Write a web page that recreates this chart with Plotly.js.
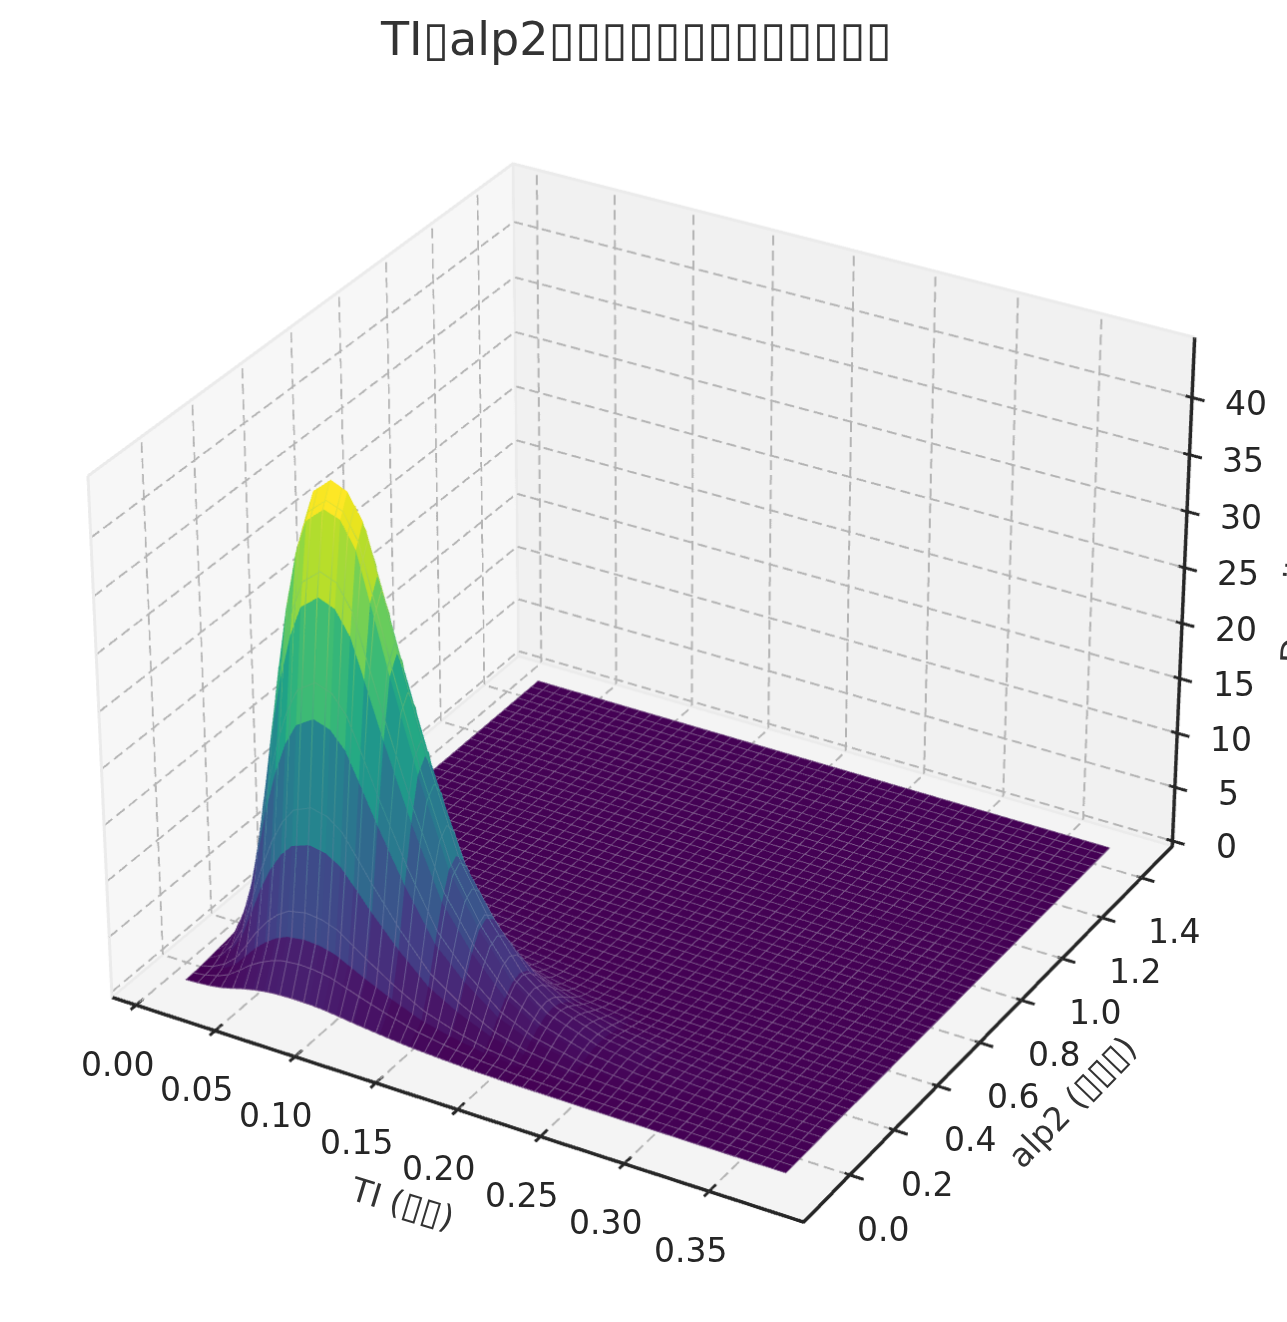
<!DOCTYPE html>
<html><head><meta charset="utf-8">
<script src="https://cdn.plot.ly/plotly-3.0.1.min.js"></script>
<style>html,body{margin:0;padding:0;background:#fff}#page{position:relative;width:1287px;height:1322px;overflow:hidden;background:#fff}#chart{position:absolute}</style>
</head><body><div id="page"><div id="chart"></div></div>
<script>
const tiValues=[.012,.02,.028,.035,.042,.048,.055,.062,.069,.08,.09,.099,.107,.118,.134,.152,.17,.19,.21,.24,.27,.3,.34,.378];
const alp2Values=[-.08,-.026,.005,.036,.068,.099,.13,.16,.19,.22,.25,.28,.31,.35,.4,.5,.6,.7,.85,1.0,1.2,1.46];
const densityRows=[
[.01,.07,.18,.34,.6,.85,1.07,1.24,1.35,1.41,1.38,1.3,1.16,.96,.69,.44,.28,.15,.08,.04,.02,.01,0,0],
[.06,.29,.74,1.38,2.46,3.43,4.34,5.03,5.49,5.72,5.6,5.27,4.69,3.89,2.81,1.77,1.14,.62,.34,.14,.07,.03,.01,.01],
[.14,.68,1.77,3.29,5.86,8.18,10.35,12.0,13.08,13.64,13.36,12.56,11.19,9.27,6.7,4.22,2.73,1.49,.81,.34,.16,.08,.03,.01],
[.24,1.21,3.14,5.83,10.4,14.52,18.37,21.29,23.21,24.2,23.71,22.28,19.86,16.45,11.88,7.48,4.84,2.64,1.43,.61,.28,.14,.05,.02],
[.34,1.72,4.45,8.27,14.74,20.59,26.05,30.19,32.92,34.2,33.62,31.59,28.16,23.32,16.85,10.61,6.86,3.74,2.03,.86,.39,.2,.07,.03],
[.42,2.09,5.42,10.07,17.96,25.08,31.73,36.77,39.8,41.2,40.7,38.48,34.3,28.41,20.52,12.92,8.36,4.56,2.47,1.05,.48,.25,.09,.04],
[.44,2.2,5.7,10.6,18.9,26.4,33.4,38.5,41.8,43.2,42.6,40.4,36.1,29.9,21.6,13.6,8.8,4.8,2.6,1.1,.5,.26,.09,.04],
[.41,2.05,5.3,9.86,17.58,24.55,31.06,35.8,39,40.4,39.8,37.6,33.57,27.81,20.09,12.65,8.18,4.46,2.42,1.02,.47,.24,.08,.04],
[.33,1.67,4.33,8.06,14.36,20.06,25.38,29.41,32.07,33.3,32.76,30.78,27.44,22.72,16.42,10.34,6.69,3.65,1.98,.84,.38,.2,.07,.03],
[.24,1.2,3.1,5.8,10.35,14.5,18.3,21.2,23.1,24.1,23.6,22.2,19.8,16.4,11.8,7.45,4.8,2.63,1.42,.6,.28,.14,.05,.02],
[.16,.79,2.05,3.82,6.8,9.5,12.02,13.93,15.19,15.84,15.52,14.58,13,10.76,7.78,4.9,3.17,1.73,.94,.4,.18,.09,.03,.01],
[.09,.46,1.2,2.23,3.97,5.54,7.01,8.13,8.86,9.24,9.05,8.5,7.58,6.28,4.54,2.86,1.85,1.01,.55,.23,.11,.05,.02,.01],
[.05,.26,.68,1.27,2.27,3.17,4.01,4.64,5.06,5.28,5.17,4.86,4.33,3.59,2.59,1.63,1.06,.58,.31,.13,.06,.03,.01,0],
[.03,.13,.34,.64,1.13,1.58,2,2.32,2.53,2.64,2.59,2.43,2.17,1.79,1.3,.82,.53,.29,.16,.07,.03,.02,.01,0],
[.01,.07,.17,.32,.57,.79,1,1.16,1.27,1.32,1.29,1.22,1.08,.9,.65,.41,.26,.14,.08,.03,.02,.01,0,0],
[0,.03,.07,.13,.23,.32,.4,.46,.51,.53,.52,.49,.43,.36,.26,.16,.11,.06,.03,.01,.01,0,0,0],
[0,.01,.03,.06,.11,.16,.2,.23,.25,.26,.26,.24,.22,.18,.13,.08,.05,.03,.02,.01,0,0,0,0],
[0,.01,.02,.03,.06,.08,.1,.12,.13,.13,.13,.12,.11,.09,.06,.04,.03,.01,.01,0,0,0,0,0],
[0,0,.01,.01,.02,.03,.03,.04,.04,.04,.04,.04,.04,.03,.02,.01,.01,0,0,0,0,0,0,0],
[0,0,0,0,.01,.01,.01,.01,.01,.01,.01,.01,.01,.01,.01,0,0,0,0,0,0,0,0,0],
[0,0,0,0,0,0,0,0,0,0,0,0,0,0,0,0,0,0,0,0,0,0,0,0],
[0,0,0,0,0,0,0,0,0,0,0,0,0,0,0,0,0,0,0,0,0,0,0,0]];
const xTicks=[0,.05,.1,.15,.2,.25,.3,.35];
const xTickText=['0.00','0.05','0.10','0.15','0.20','0.25','0.30','0.35'];
const yTicks=[0,.2,.4,.6,.8,1,1.2,1.4];
const yTickText=['0.0','0.2','0.4','0.6','0.8','1.0','1.2','1.4'];
const zTicks=[0,5,10,15,20,25,30,35,40];
const box='<span style="font-size:48px">▯</span>';
const smallBox='<span style="font-size:36px">▯</span>';
const titleText='TI'+box+'alp2'+box.repeat(13);
const xLabel='TI ('+smallBox.repeat(2)+')', yLabel='alp2 ('+smallBox.repeat(3)+')', zLabel='Density';

const W=5745,H=5745,PX=651,PY=668,LEFT=PX-W/2,TOP=PY-H/2;
document.getElementById('chart').style.left=LEFT+'px';
document.getElementById('chart').style.top=TOP+'px';
const xlo=-.0154,xhi=.405,ylo=-.205,yhi=1.56,zlo=-.5,zhi=45.2;
const xe=.012,ye=.03;
const xR=[xlo-xe,xhi+xe],yR=[ylo-ye,yhi+ye],zR=[zlo-.2,zhi+.2];
const dark='#262626',gridC='#b4b4b4',edgeC='#ebebeb',dk=.0004,dy=.002,dz=.06;

function lines(segs,color,width){
  const x=[],y=[],z=[];
  segs.forEach(s=>{s.forEach(p=>{x.push(p[0]);y.push(p[1]);z.push(p[2]);});x.push(null);y.push(null);z.push(null);});
  return {type:'scatter3d',mode:'lines',x,y,z,line:{color,width},hoverinfo:'skip',showlegend:false};
}
function dashes(a,b,n){
  const out=[];
  for(let i=0;i<n;i++){
    const s=i/n,e=(i+.66)/n;
    out.push([[a[0]+(b[0]-a[0])*s,a[1]+(b[1]-a[1])*s,a[2]+(b[2]-a[2])*s],[a[0]+(b[0]-a[0])*e,a[1]+(b[1]-a[1])*e,a[2]+(b[2]-a[2])*e]]);
  }
  return out;
}
function pane(xs,ys,zs,color){
  return {type:'mesh3d',x:xs,y:ys,z:zs,i:[0,0],j:[1,2],k:[2,3],color,flatshading:true,hoverinfo:'skip',showscale:false,
    lighting:{ambient:1,diffuse:0,specular:0,roughness:1,fresnel:0}};
}
const px=xlo-dk,py=yhi+dy,pz=zlo-dz;
const traces=[
 pane([px,px,px,px],[ylo,yhi,yhi,ylo],[zlo,zlo,zhi,zhi],'#f7f7f7'),
 pane([xlo,xhi,xhi,xlo],[py,py,py,py],[zlo,zlo,zhi,zhi],'#f1f1f1'),
 pane([xlo,xhi,xhi,xlo],[ylo,ylo,yhi,yhi],[pz,pz,pz,pz],'#f4f4f4')
];
let gridSegs=[];
xTicks.forEach(t=>{gridSegs=gridSegs.concat(dashes([t,ylo,zlo],[t,yhi,zlo],36),dashes([t,yhi,zlo],[t,yhi,zhi],34));});
yTicks.forEach(t=>{gridSegs=gridSegs.concat(dashes([xhi,t,zlo],[xlo,t,zlo],46),dashes([xlo,t,zlo],[xlo,t,zhi],34));});
zTicks.forEach(t=>{gridSegs=gridSegs.concat(dashes([xlo,ylo,t],[xlo,yhi,t],36),dashes([xlo,yhi,t],[xhi,yhi,t],46));});
traces.push(lines(gridSegs,gridC,2));
traces.push(lines([[[xlo,ylo,zhi],[xlo,yhi,zhi],[xhi,yhi,zhi]],[[xlo,yhi,zlo],[xlo,yhi,zhi]],[[xlo,ylo,zlo],[xlo,yhi,zlo],[xhi,yhi,zlo]],[[xlo,ylo,zlo],[xlo,ylo,zhi]]],edgeC,3));

// flat-coloured faces, each face takes the mean of its four corners
const nx=tiValues.length,ny=alp2Values.length,eps=1e-6;
const ex=[],ey=[],ez=[],ec=[];
for(let k=0;k<2*(nx-1);k++){const f=k>>1,s=k&1;ex.push(tiValues[f+s]+(s?-eps:eps));}
for(let k=0;k<2*(ny-1);k++){const f=k>>1,s=k&1;ey.push(alp2Values[f+s]+(s?-eps:eps));}
let maxFace=0;
for(let r=0;r<2*(ny-1);r++){
  const fr=r>>1,sr=r&1,zr=[],cr=[];
  for(let c=0;c<2*(nx-1);c++){
    const fc=c>>1,sc=c&1;
    zr.push(densityRows[fr+sr][fc+sc]);
    const m=(densityRows[fr][fc]+densityRows[fr+1][fc]+densityRows[fr][fc+1]+densityRows[fr+1][fc+1])/4;
    cr.push(m); if(m>maxFace)maxFace=m;
  }
  ez.push(zr);ec.push(cr);
}
traces.push({type:'surface',x:ex,y:ey,z:ez,surfacecolor:ec,colorscale:'Viridis',cmin:0,cmax:maxFace,showscale:false,hoverinfo:'skip',
  lighting:{ambient:1,diffuse:0,specular:0,roughness:1,fresnel:0},contours:{x:{show:false},y:{show:false},z:{show:false}}});

// faint seams between the faces
function heightAt(x,y){
  let i=0,j=0;
  while(i<nx-2&&tiValues[i+1]<x)i++;
  while(j<ny-2&&alp2Values[j+1]<y)j++;
  const u=(x-tiValues[i])/(tiValues[i+1]-tiValues[i]),v=(y-alp2Values[j])/(alp2Values[j+1]-alp2Values[j]);
  return (1-v)*((1-u)*densityRows[j][i]+u*densityRows[j][i+1])+v*((1-u)*densityRows[j+1][i]+u*densityRows[j+1][i+1]);
}
const seamN=50,sx=[],sy=[],sz=[],sc=[];
function seamPt(x,y){const h=heightAt(x,y);sx.push(x+.0004);sy.push(y-.0015);sz.push(h+.03);sc.push(h);}
function seamGap(){sx.push(null);sy.push(null);sz.push(null);sc.push(0);}
const xa=tiValues[0],xb=tiValues[nx-1],ya=alp2Values[0],yb=alp2Values[ny-1];
for(let i=0;i<seamN;i++){
  const x=xa+(xb-xa)*i/(seamN-1);
  alp2Values.forEach(y=>seamPt(x,y));seamGap();
  const y0=ya+(yb-ya)*i/(seamN-1);
  tiValues.forEach(v=>seamPt(v,y0));seamGap();
}
traces.push({type:'scatter3d',mode:'lines',x:sx,y:sy,z:sz,hoverinfo:'skip',showlegend:false,
 line:{width:1,color:sc,cmin:0,cmax:44,showscale:false,colorscale:[[0,'#7a5688'],[.08,'#775590'],[.2,'#586b9c'],[.45,'#2f9590'],[.7,'#62c46a'],[1,'#fde725']]}});

traces.push(lines([[[xlo,ylo,zlo],[xhi,ylo,zlo],[xhi,yhi,zlo],[xhi,yhi,zhi]]],dark,3.5));
const tickSegs=[];
xTicks.forEach(t=>tickSegs.push([[t,ylo-.022,zlo],[t,ylo+.03,zlo]]));
yTicks.forEach(t=>tickSegs.push([[xhi-.003,t,zlo],[xhi+.008,t,zlo]]));
zTicks.forEach(t=>tickSegs.push([[xhi-.0037,yhi,t],[xhi+.0074,yhi,t]]));
traces.push(lines(tickSegs,dark,3));

const tickFont={family:'DejaVu Sans',size:33,color:dark};
const labelFont={family:'DejaVu Sans',size:33,color:'#333'};
const ann=[];
xTicks.forEach((t,i)=>ann.push({x:t,y:ylo,z:zlo,text:xTickText[i],showarrow:false,font:tickFont,xshift:-19,yshift:-59}));
yTicks.forEach((t,i)=>ann.push({x:xhi,y:t,z:zlo,text:yTickText[i],showarrow:false,font:tickFont,xshift:33,yshift:-54}));
zTicks.forEach(t=>ann.push({x:xhi,y:yhi,z:t,text:String(t),showarrow:false,font:tickFont,xshift:54,yshift:-6}));
ann.push({x:.2,y:ylo,z:zlo,text:xLabel,showarrow:false,font:labelFont,textangle:17,xshift:-55,yshift:-93});
ann.push({x:xhi,y:.55,z:zlo,text:yLabel,showarrow:false,font:labelFont,textangle:-46,xshift:102,yshift:-48});
ann.push({x:xhi,y:yhi,z:22,text:zLabel,showarrow:false,font:labelFont,textangle:-87.4,xshift:112,yshift:0});

const D=8.75;
const layout={width:W,height:H,margin:{l:0,r:0,t:0,b:0},paper_bgcolor:'#fff',showlegend:false,
 title:{text:titleText,font:{family:'DejaVu Sans',size:46,color:'#333'},x:(636-LEFT)/W,xanchor:'center',xref:'paper',yref:'paper',y:1-(38-TOP)/H,yanchor:'middle'},
 scene:{domain:{x:[0,1],y:[0,1]},bgcolor:'#fff',
  xaxis:{visible:false,range:xR,autorange:false},yaxis:{visible:false,range:yR,autorange:false},zaxis:{visible:false,range:zR,autorange:false},
  aspectmode:'manual',
  aspectratio:{x:(xR[1]-xR[0])/(xhi-xlo),y:(yR[1]-yR[0])/(yhi-ylo),z:.75*(zR[1]-zR[0])/(zhi-zlo)},
  camera:{center:{x:0,y:0,z:0},up:{x:0,y:0,z:1},eye:{x:D*.433,y:-D*.75,z:D*.5},projection:{type:'perspective'}},
  annotations:ann}};
Plotly.newPlot('chart',traces,layout,{displayModeBar:false,responsive:false});
</script></body></html>
